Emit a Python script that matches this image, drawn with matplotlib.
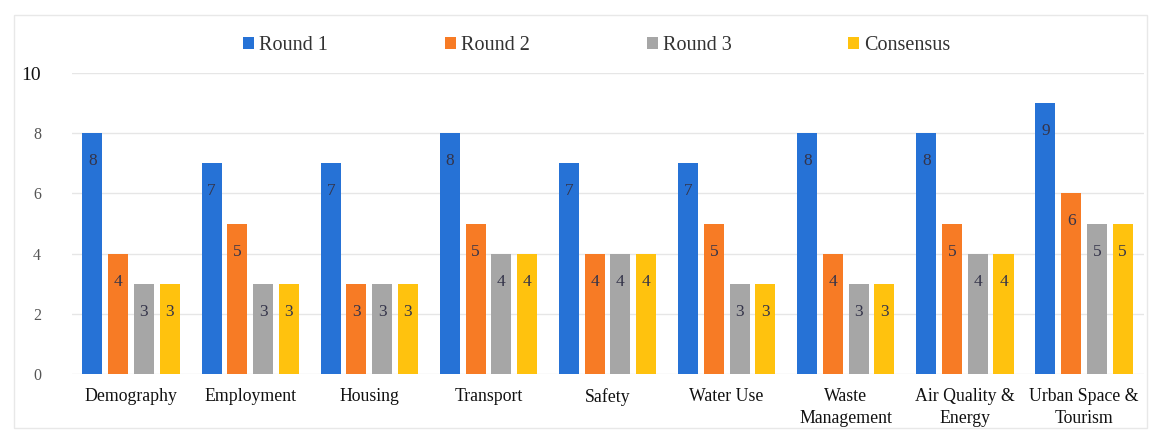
import matplotlib
matplotlib.use("Agg")
import matplotlib.pyplot as plt
import numpy as np
from matplotlib.patches import Rectangle

categories = ["Demography", "Employment", "Housing", "Transport", "Safety",
              "Water Use", "Waste\nManagement", "Air Quality &\nEnergy", "Urban Space &\nTourism"]
series_names = ["Round 1", "Round 2", "Round 3", "Consensus"]
round1 = [8, 7, 7, 8, 7, 7, 8, 8, 9]
round2 = [4, 5, 3, 5, 4, 5, 4, 5, 6]
round3 = [3, 3, 3, 4, 4, 3, 3, 4, 5]
consensus = [3, 3, 3, 4, 4, 3, 3, 4, 5]
yticks = [0, 2, 4, 6, 8, 10]

colors = ["#2672D6", "#F77B25", "#A6A6A6", "#FFC20E"]
series = [round1, round2, round3, consensus]

plt.rcParams['font.family'] = ['Liberation Serif', 'DejaVu Serif']

fig = plt.figure(figsize=(11.59, 4.30), dpi=100)
ax = fig.add_axes([0.0617, 0.1302, 0.925, 0.70])

x = np.arange(len(categories))
step = 0.216
width = 0.168
for i, (vals, col, name) in enumerate(zip(series, colors, series_names)):
    pos = x + (i - 1.5) * step
    ax.bar(pos, vals, width=width, color=col, label=name, zorder=3)
    for p, v in zip(pos, vals):
        ax.text(p, v - 0.93, str(v), ha='center', va='center', fontsize=12.5,
                color='#34344a', zorder=4)

ax.set_xlim(-0.5, len(categories) - 0.5)
ax.set_ylim(0, 10)
ax.set_yticks(yticks)
ax.set_yticklabels([str(t) for t in yticks], fontsize=11.5, color='#555555')
ax.get_yticklabels()[-1].set_fontsize(14)
ax.get_yticklabels()[-1].set_color('#111111')
ax.yaxis.grid(True, color='#e6e6e6', linewidth=1, zorder=0)
ax.set_xticks(x)
ax.set_xticklabels(categories, fontsize=12.8, color='#111111', linespacing=1.4)
ax.tick_params(axis='both', length=0)
ax.tick_params(axis='y', pad=22)
ax.tick_params(axis='x', pad=10)
for s in ax.spines.values():
    s.set_visible(False)

ax.legend(loc='lower center', bbox_to_anchor=(0.49, 1.0), ncol=4, frameon=False,
          fontsize=14.5, handlelength=0.55, handleheight=0.55, handletextpad=0.25,
          columnspacing=5.8, labelcolor='#333333')

fig.patches.append(Rectangle((0.012, 0.005), 0.978, 0.96, transform=fig.transFigure,
                             fill=False, edgecolor='#e8e8e8', linewidth=1))

fig.savefig("out.png", dpi=100)
